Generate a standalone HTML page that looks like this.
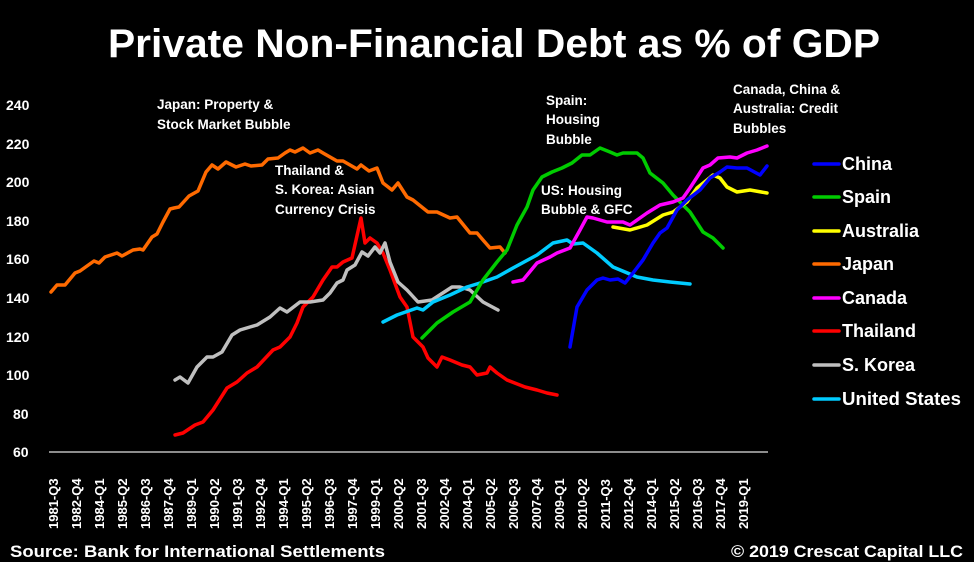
<!DOCTYPE html>
<html><head><meta charset="utf-8"><style>
html,body{margin:0;padding:0;background:#000;}
svg{display:block;font-family:"Liberation Sans",sans-serif;}
</style></head><body>
<svg width="974" height="562" viewBox="0 0 974 562" xmlns="http://www.w3.org/2000/svg">
<rect width="974" height="562" fill="#000"/>
<text x="494" y="57" fill="#fff" font-size="40" font-weight="bold" text-anchor="middle" textLength="772" lengthAdjust="spacingAndGlyphs">Private Non-Financial Debt as % of GDP</text>
<g fill="#fff" font-size="14" font-weight="bold">
<text x="6" y="110">240</text><text x="6" y="149">220</text><text x="6" y="187">200</text><text x="6" y="226">180</text><text x="6" y="264">160</text><text x="6" y="303">140</text><text x="6" y="342">120</text><text x="6" y="380">100</text><text x="13" y="419">80</text><text x="13" y="457">60</text>
</g>
<line x1="49" y1="452" x2="768" y2="452" stroke="#bbb" stroke-width="1.5"/>
<g fill="none" stroke-width="3.5" stroke-linejoin="round" stroke-linecap="round">
<polyline stroke="#ff6a00" points="51,292 57,285 65,285 75,273 80,271 94,261 99,263 105,257 111,255 117,253 122,256 133,250 140,249 143,250 152,237 157,234 163,222 170,209 174,208 179,207 189,196 198,191 206,172 212,165 218,169 226,162 236,167 245,164 251,166 262,165 268,159 278,158 285,153 290,150 295,152 303,148 310,153 318,150 323,153 337,161 343,161 350,165 357,169 361,165 369,171 377,168 383,183 392,190 398,183 407,197 413,200 428,212 437,212 450,218 457,217 470,233 477,233 483,240 490,248 500,247 505,253"/>
<polyline stroke="#ff0000" points="175,435 183,433 195,425 203,422 213,410 227,388 237,382 247,373 257,367 273,350 280,347 290,337 297,323 303,307 313,297 323,280 332,267 337,267 343,262 352,258 361,218 365,243 370,238 377,243 383,253 390,270 400,297 407,307 413,337 423,347 428,358 437,367 442,357 450,360 462,365 470,367 477,375 487,373 490,367 497,373 507,380 525,387 537,390 547,393 557,395"/>
<polyline stroke="#bfbfbf" points="175,380 180,377 188,383 197,367 207,357 213,357 222,352 232,335 240,330 250,327 257,325 270,317 280,308 287,312 300,302 310,302 323,300 330,293 337,283 343,280 347,270 355,265 362,252 368,256 375,247 380,253 385,243 390,262 398,282 407,290 418,302 432,300 452,287 460,287 470,290 483,302 498,310"/>
<polyline stroke="#00ccff" points="383,322 397,315 417,308 423,310 433,302 450,295 467,287 480,283 497,277 513,268 537,255 553,243 567,240 573,244 583,243 597,253 613,267 637,277 653,280 670,282 690,284"/>
<polyline stroke="#00cc00" points="422,338 437,323 453,312 470,302 483,280 497,262 507,250 517,225 527,207 533,190 542,177 552,172 562,168 572,163 582,155 590,155 600,148 610,152 617,155 623,153 637,153 643,158 650,173 663,183 673,195 690,212 703,232 713,238 723,248"/>
<polyline stroke="#ff00ff" points="513,282 523,280 537,263 550,257 557,253 570,248 580,230 587,217 593,218 607,222 623,222 630,225 647,213 660,205 673,202 683,198 690,188 703,168 710,165 718,158 730,157 737,158 747,153 757,150 767,146"/>
<polyline stroke="#ffff00" points="613,227 630,230 647,225 663,215 673,212 687,202 697,188 707,180 713,175 720,178 727,187 737,192 750,190 767,193"/>
<polyline stroke="#0000ff" points="570,347 577,307 587,290 597,280 603,278 610,280 618,279 625,283 633,273 643,260 653,243 660,233 667,228 677,210 687,200 700,190 710,178 720,172 727,167 737,168 747,168 760,175 767,166"/>
</g>
<g fill="#fff" font-size="13.5" font-weight="bold">
<text x="157" y="109">Japan: Property &amp;</text><text x="157" y="129">Stock Market Bubble</text>
<text x="275" y="175">Thailand &amp;</text><text x="275" y="194">S. Korea: Asian</text><text x="275" y="214">Currency Crisis</text>
<text x="546" y="105">Spain:</text><text x="546" y="124">Housing</text><text x="546" y="144">Bubble</text>
<text x="541" y="195">US: Housing</text><text x="541" y="214">Bubble &amp; GFC</text>
<text x="733" y="94">Canada, China &amp;</text><text x="733" y="113">Australia: Credit</text><text x="733" y="133">Bubbles</text>
</g>
<g stroke-width="3.5" stroke-linecap="round">
<line x1="814" y1="164" x2="839" y2="164" stroke="#0000ff"/>
<line x1="814" y1="197" x2="839" y2="197" stroke="#00cc00"/>
<line x1="814" y1="231" x2="839" y2="231" stroke="#ffff00"/>
<line x1="814" y1="264" x2="839" y2="264" stroke="#ff6a00"/>
<line x1="814" y1="298" x2="839" y2="298" stroke="#ff00ff"/>
<line x1="814" y1="331" x2="839" y2="331" stroke="#ff0000"/>
<line x1="814" y1="365" x2="839" y2="365" stroke="#bfbfbf"/>
<line x1="814" y1="399" x2="839" y2="399" stroke="#00ccff"/>
</g>
<g fill="#fff" font-size="18" font-weight="bold">
<text x="842" y="170">China</text><text x="842" y="203">Spain</text><text x="842" y="237">Australia</text><text x="842" y="270">Japan</text><text x="842" y="304">Canada</text><text x="842" y="337">Thailand</text><text x="842" y="371">S. Korea</text><text x="842" y="405" textLength="119" lengthAdjust="spacingAndGlyphs">United States</text>
</g>
<text x="10" y="557" fill="#fff" font-size="17" font-weight="bold" textLength="375" lengthAdjust="spacingAndGlyphs">Source: Bank for International Settlements</text>
<text x="731" y="557" fill="#fff" font-size="17" font-weight="bold" textLength="232" lengthAdjust="spacingAndGlyphs">© 2019 Crescat Capital LLC</text>
<g fill="#fff" font-size="13" font-weight="bold">
<text transform="translate(58,529) rotate(-90)">1981-Q3</text>
<text transform="translate(81,529) rotate(-90)">1982-Q4</text>
<text transform="translate(104,529) rotate(-90)">1984-Q1</text>
<text transform="translate(127,529) rotate(-90)">1985-Q2</text>
<text transform="translate(150,529) rotate(-90)">1986-Q3</text>
<text transform="translate(173,529) rotate(-90)">1987-Q4</text>
<text transform="translate(196,529) rotate(-90)">1989-Q1</text>
<text transform="translate(219,529) rotate(-90)">1990-Q2</text>
<text transform="translate(242,529) rotate(-90)">1991-Q3</text>
<text transform="translate(265,529) rotate(-90)">1992-Q4</text>
<text transform="translate(288,529) rotate(-90)">1994-Q1</text>
<text transform="translate(311,529) rotate(-90)">1995-Q2</text>
<text transform="translate(334,529) rotate(-90)">1996-Q3</text>
<text transform="translate(357,529) rotate(-90)">1997-Q4</text>
<text transform="translate(380,529) rotate(-90)">1999-Q1</text>
<text transform="translate(403,529) rotate(-90)">2000-Q2</text>
<text transform="translate(426,529) rotate(-90)">2001-Q3</text>
<text transform="translate(449,529) rotate(-90)">2002-Q4</text>
<text transform="translate(472,529) rotate(-90)">2004-Q1</text>
<text transform="translate(495,529) rotate(-90)">2005-Q2</text>
<text transform="translate(518,529) rotate(-90)">2006-Q3</text>
<text transform="translate(541,529) rotate(-90)">2007-Q4</text>
<text transform="translate(564,529) rotate(-90)">2009-Q1</text>
<text transform="translate(587,529) rotate(-90)">2010-Q2</text>
<text transform="translate(610,529) rotate(-90)">2011-Q3</text>
<text transform="translate(633,529) rotate(-90)">2012-Q4</text>
<text transform="translate(656,529) rotate(-90)">2014-Q1</text>
<text transform="translate(679,529) rotate(-90)">2015-Q2</text>
<text transform="translate(702,529) rotate(-90)">2016-Q3</text>
<text transform="translate(725,529) rotate(-90)">2017-Q4</text>
<text transform="translate(748,529) rotate(-90)">2019-Q1</text>
</g>
</svg>
</body></html>
